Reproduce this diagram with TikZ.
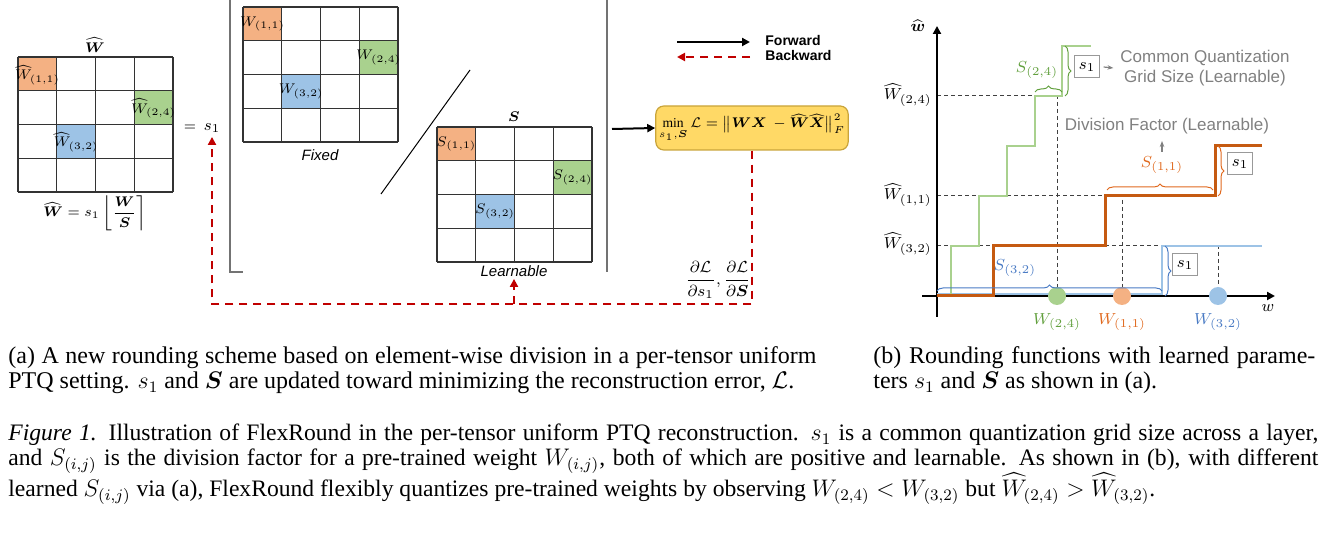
\documentclass[tikz,border=0pt]{standalone}
\usepackage{amssymb}
\usepackage{amsmath}
\usepackage{fontspec}
\setmainfont{Liberation Serif}
\setsansfont{Liberation Sans}
\usepackage{tikz}
\usetikzlibrary{arrows.meta,decorations.pathreplacing}

\definecolor{cellorange}{HTML}{F4B183}
\definecolor{cellgreen}{HTML}{A9D18E}
\definecolor{cellblue}{HTML}{9DC3E6}
\definecolor{lossfill}{HTML}{FFD966}
\definecolor{lossdraw}{HTML}{C9A43A}
\definecolor{bwdred}{HTML}{C00000}
\definecolor{greentext}{HTML}{62A03E}
\definecolor{lineorange}{HTML}{C55A11}
\definecolor{orangetext}{HTML}{E0691E}
\definecolor{bluetext}{HTML}{4A7BC4}
\definecolor{graytext}{HTML}{808080}

\begin{document}
\begin{tikzpicture}[x=0.5pt,y=-0.5pt,
	gridline/.style={line width=0.6pt,black!80},
	lbl/.style={font=\fontsize{7.3}{8}\selectfont,inner sep=0pt},
	fwd/.style={line width=1pt,-{Triangle[length=4pt,width=4pt]}},
	bwd/.style={line width=1.3pt,bwdred,dash pattern=on 4pt off 3pt,-{Triangle[length=4pt,width=4pt]}},
	panelline/.style={line width=0.8pt,black!55},
	lvl/.style={line width=0.5pt,black!75,dash pattern=on 2pt off 1.5pt},
	brc/.style={decorate,decoration={brace,amplitude=3pt},line width=0.5pt},
	sbox/.style={draw=black!40,fill=white,line width=0.5pt,inner sep=2pt,minimum size=11pt,font=\fontsize{8}{9}\selectfont},
	note/.style={text=graytext,font=\sffamily\fontsize{8.5}{10}\selectfont},
	capline/.style={anchor=base west,inner sep=0pt,font=\fontsize{12}{14}\selectfont}]
	\useasboundingbox (0,0) rectangle (1322,544);

	%MATRICES (W HAT, W, S)
	\foreach \gx/\gy in {18/57, 243/7, 437/127} {
		\fill[cellorange] (\gx,\gy) rectangle ++(38.75,33.75);
		\fill[cellgreen] (\gx+116.25,\gy+33.75) rectangle ++(38.75,33.75);
		\fill[cellblue] (\gx+38.75,\gy+67.5) rectangle ++(38.75,33.75);
		\foreach \i in {0,...,4} {
			\draw[gridline] (\gx+\i*38.75,\gy) -- (\gx+\i*38.75,\gy+135);
			\draw[gridline] (\gx,\gy+\i*33.75) -- (\gx+155,\gy+\i*33.75);
		}
	}
	\node[lbl] (hw11) at (37.4,75) {$\widehat{W}_{(1,1)}$};
	\node[lbl] (hw24) at (153.6,108.6) {$\widehat{W}_{(2,4)}$};
	\node[lbl] (hw32) at (76.1,142.4) {$\widehat{W}_{(3,2)}$};
	\node[lbl] (hwtitle) at (95,45) {$\widehat{\boldsymbol{W}}$};
	\node[lbl] (hweq) at (95,213) {$\widehat{\boldsymbol{W}}=s_1\left\lfloor\dfrac{\boldsymbol{W}}{\boldsymbol{S}}\right\rceil$};
	\node[lbl] (eqsign) at (190,128) {$=$};
	\node[lbl,font=\fontsize{8}{9}\selectfont] (sone) at (212,128) {$s_1$};

	\node[lbl] (w11) at (262.4,24) {$W_{(1,1)}$};
	\node[lbl] (w24) at (378.6,57.6) {$W_{(2,4)}$};
	\node[lbl] (w32) at (301.1,91.4) {$W_{(3,2)}$};
	\node[lbl,font=\sffamily\itshape\fontsize{7.5}{8}\selectfont] (fixed) at (320,155) {Fixed};

	\node[lbl] (s11) at (456.4,144) {$S_{(1,1)}$};
	\node[lbl] (s24) at (572.6,177.6) {$S_{(2,4)}$};
	\node[lbl] (s32) at (495.1,211.4) {$S_{(3,2)}$};
	\node[lbl] (stitle) at (514,117) {$\boldsymbol{S}$};
	\node[lbl,font=\sffamily\itshape\fontsize{7.5}{8}\selectfont] (learn) at (514,271) {Learnable};

	%PANEL LINES
	\draw[panelline] (230,0) -- (230,272) -- (243,272);
	\draw[panelline] (607,0) -- (607,272);
	\draw[line width=0.5pt] (381,194) -- (470,70);

	%LOSS AND LEGEND
	\node[draw=lossdraw,fill=lossfill,rounded corners=4pt,line width=0.6pt,minimum width=84pt,minimum height=22pt,inner sep=1.5pt,font=\fontsize{6.8}{8}\selectfont] (lossbox) at (752,128)
		{$\min\limits_{s_1,\boldsymbol{S}}\mathcal{L}=\bigl\|\boldsymbol{W}\boldsymbol{X}\,-\widehat{\boldsymbol{W}}\widehat{\boldsymbol{X}}\bigr\|_F^2$};
	\coordinate (fwdstart) at (612,129);
	\draw[fwd] (fwdstart) -- (lossbox.west);

	\coordinate (legA) at (677,42);
	\coordinate (legB) at (750,42);
	\coordinate (legC) at (750,57);
	\coordinate (legD) at (677,57);
	\draw[fwd] (legA) -- (legB);
	\draw[bwd] (legC) -- (legD);
	\node[anchor=west,inner sep=0pt,font=\sffamily\bfseries\fontsize{7}{8}\selectfont] (fwdtext) at (765,41) {Forward};
	\node[anchor=west,inner sep=0pt,font=\sffamily\bfseries\fontsize{7}{8}\selectfont] (bwdtext) at (765,56) {Backward};

	%BACKWARD PATH
	\coordinate (bwdcorner) at (lossbox.south |- 0,304);
	\coordinate (bwdleft) at (sone.south |- 0,304);
	\draw[bwd] (lossbox.south) -- (bwdcorner) -- (bwdleft) -- ([yshift=-2pt]sone.south);
	\draw[bwd] (learn.south |- 0,304) -- ([yshift=-1pt]learn.south);
	\node[lbl,font=\fontsize{8}{9}\selectfont] (grad) at (718,280) {$\dfrac{\partial\mathcal{L}}{\partial s_1},\dfrac{\partial\mathcal{L}}{\partial\boldsymbol{S}}$};

	%LEVEL LINES
	\draw[lvl] (937,96) -- (1057,96) -- (1057,296);
	\draw[lvl] (937,196) -- (1122,196) -- (1122,296);
	\draw[lvl] (937,246) -- (1218,246) -- (1218,296);

	%AXES
	\coordinate (origin) at (937,296);
	\draw[line width=1.3pt,-{Triangle[length=4pt,width=4pt]}] (922,296) -- (1275,296);
	\draw[line width=1.3pt,-{Triangle[length=4pt,width=4pt]}] (937,317) -- (937,26);
	\node[lbl,font=\fontsize{8}{9}\selectfont] (waxis) at (1268,308) {$w$};
	\node[lbl,font=\fontsize{8}{9}\selectfont] (whaxis) at (918,26) {$\widehat{\boldsymbol{w}}$};
	\node[lbl,anchor=east,font=\fontsize{8.5}{9}\selectfont] (lv24) at (932,95) {$\widehat{W}_{(2,4)}$};
	\node[lbl,anchor=east,font=\fontsize{8.5}{9}\selectfont] (lv11) at (932,195) {$\widehat{W}_{(1,1)}$};
	\node[lbl,anchor=east,font=\fontsize{8.5}{9}\selectfont] (lv32) at (932,244) {$\widehat{W}_{(3,2)}$};

	%ROUNDING FUNCTIONS
	\draw[line width=1pt,cellblue] (origin) ++(0,-2) -- (1162,294) -- (1162,246) -- (1262,246);
	\draw[line width=1pt,cellgreen] (951,296) -- (951,246) -- (979,246) -- (979,196) -- (1007,196) -- (1007,146) -- (1035,146) -- (1035,96) -- (1062,96) -- (1062,46) -- (1091,46);
	\draw[line width=1.5pt,lineorange] (origin) -- (993,296) -- (993,246) -- (1105,246) -- (1105,196) -- (1215,196) -- (1215,146) -- (1262,146);

	%DOTS
	\fill[cellgreen] (1057,296) circle (4.5pt);
	\fill[cellorange] (1122,296) circle (4.5pt);
	\fill[cellblue] (1218,296) circle (4.5pt);
	\node[lbl,font=\fontsize{8.5}{9}\selectfont,text=greentext] (dot24) at (1057,322) {$W_{(2,4)}$};
	\node[lbl,font=\fontsize{8.5}{9}\selectfont,text=orangetext] (dot11) at (1122,322) {$W_{(1,1)}$};
	\node[lbl,font=\fontsize{8.5}{9}\selectfont,text=bluetext] (dot32) at (1218,322) {$W_{(3,2)}$};

	%BRACES
	\draw[brc,greentext] (1035,92) -- (1062,92);
	\node[lbl,font=\fontsize{8.5}{9}\selectfont,text=greentext] (bs24) at (1037,70) {$S_{(2,4)}$};
	\draw[brc,greentext] (1065,46) -- (1065,96);
	\node[sbox] (sbox24) at (1087,67) {$s_1$};
	\node[note,align=center] (gridnote) at (1205,68) {Common Quantization\\Grid Size (Learnable)};
	\draw[graytext,line width=0.6pt,-{Stealth[length=3pt]}] (sbox24.east) ++(2pt,0) -- (gridnote.west);

	\draw[brc,orangetext] (1107,190) -- (1213,190);
	\node[lbl,font=\fontsize{8.5}{9}\selectfont,text=orangetext] (bs11) at (1162,165) {$S_{(1,1)}$};
	\node[note] (divnote) at (1167,126) {Division Factor (Learnable)};
	\draw[graytext,line width=0.6pt,-{Stealth[length=3pt]}] ([yshift=2pt]bs11.north -| 1162,0) -- (divnote.south -| 1162,0);
	\draw[brc,orangetext] (1218,146) -- (1218,196);
	\node[sbox] (sbox11) at (1240,164) {$s_1$};

	\draw[brc,bluetext] (937,291) -- (1162,291);
	\node[lbl,font=\fontsize{8.5}{9}\selectfont,text=bluetext] (bs32) at (1015,268) {$S_{(3,2)}$};
	\draw[brc,bluetext] (1165,246) -- (1165,296);
	\node[sbox] (sbox32) at (1185,265) {$s_1$};

	%CAPTIONS
	\node[capline] (capa1) at (8,364) {\makebox[404pt][s]{(a) A new rounding scheme based on element-wise division in a per-tensor uniform}};
	\node[capline] (capa2) at (8,389) {PTQ setting. $s_1$ and $\boldsymbol{S}$ are updated toward minimizing the reconstruction error, $\mathcal{L}$.};
	\node[capline] (capb1) at (873,364) {\makebox[221pt][s]{(b) Rounding functions with learned parame-}};
	\node[capline] (capb2) at (873,389) {ters $s_1$ and $\boldsymbol{S}$ as shown in (a).};
	\node[capline,font=\fontsize{11.8}{13}\selectfont] (fig1) at (8,441) {\makebox[655pt][s]{\textit{Figure 1.} Illustration of FlexRound in the per-tensor uniform PTQ reconstruction. $s_1$ is a common quantization grid size across a layer,}};
	\node[capline,font=\fontsize{11.8}{13}\selectfont] (fig2) at (8,466) {\makebox[655pt][s]{and $S_{(i,j)}$ is the division factor for a pre-trained weight $W_{(i,j)}$, both of which are positive and learnable. As shown in (b), with different}};
	\node[capline,font=\fontsize{11.8}{13}\selectfont] (fig3) at (8,497) {learned $S_{(i,j)}$ via (a), FlexRound flexibly quantizes pre-trained weights by observing $W_{(2,4)}<W_{(3,2)}$ but $\widehat{W}_{(2,4)}>\widehat{W}_{(3,2)}$.};
\end{tikzpicture}
\end{document}
